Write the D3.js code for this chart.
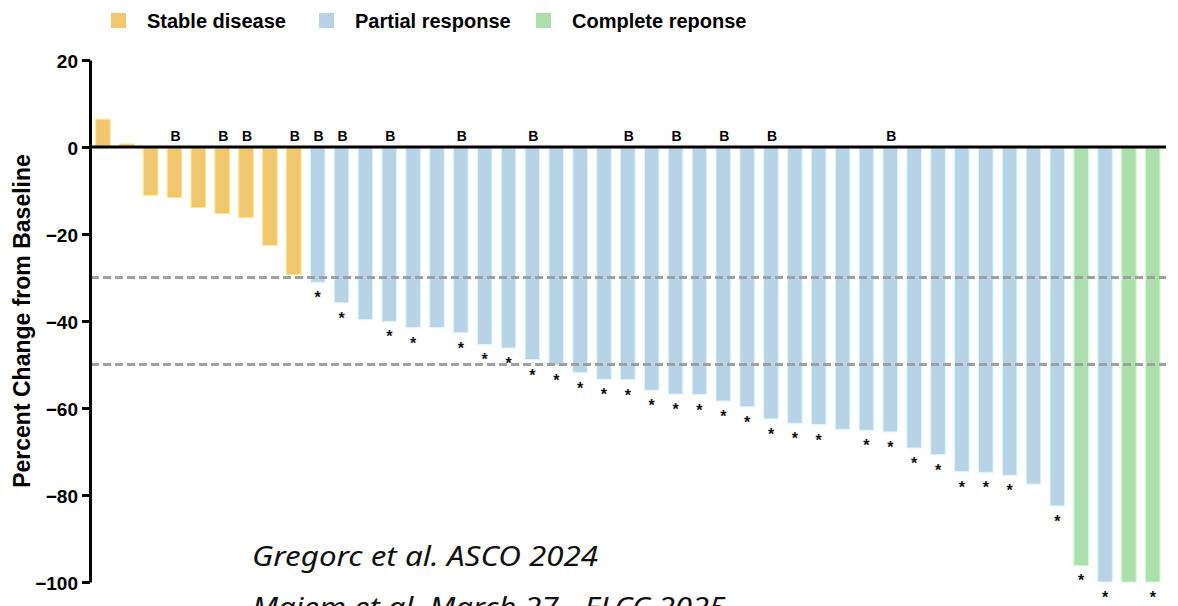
<!DOCTYPE html>
<html>
<head>
<meta charset="utf-8">
<script src="https://cdn.jsdelivr.net/npm/d3@7"></script>
<style>
  html, body { margin: 0; padding: 0; background: #ffffff; }
  svg { display: block; }
</style>
</head>
<body>
<svg id="chart" width="1178" height="606"></svg>
<script>
// Best percent change from baseline in target lesions, one bar per patient
const patients = d3.range(1, 46);
const percentChange = [
  6.4, 0.7, -11.1, -11.6, -13.9, -15.3, -16.2, -22.6, -29.3,
  -31.1, -35.8, -39.7, -40.1, -41.5, -41.5, -42.7, -45.4, -46.2, -48.9,
  -50.1, -51.9, -53.4, -53.5, -55.9, -56.8, -56.9, -58.4, -59.7, -62.5,
  -63.5, -63.8, -64.9, -65.1, -65.5, -69.2, -70.7, -74.6, -74.8, -75.5,
  -77.5, -82.5, -96.2, -100, -100, -100
];
const bestResponse = [
  "SD", "SD", "SD", "SD", "SD", "SD", "SD", "SD", "SD",
  "PR", "PR", "PR", "PR", "PR", "PR", "PR", "PR", "PR", "PR",
  "PR", "PR", "PR", "PR", "PR", "PR", "PR", "PR", "PR", "PR",
  "PR", "PR", "PR", "PR", "PR", "PR", "PR", "PR", "PR", "PR",
  "PR", "PR", "CR", "PR", "CR", "CR"
];
// Patients marked "B" above the zero line
const markedB = [4, 6, 7, 9, 10, 11, 13, 16, 19, 23, 25, 27, 29, 34];
// Patients marked with an asterisk under the bar
const markedStar = [10, 11, 13, 14, 16, 17, 18, 19, 20, 21, 22, 23, 24, 25, 26, 27, 28, 29,
  30, 31, 33, 34, 35, 36, 37, 38, 39, 41, 42, 43, 45];
const thresholds = [-30, -50];
const yTicks = [20, 0, -20, -40, -60, -80, -100];
const legendKeys = ["SD", "PR", "CR"];
const legendLabels = ["Stable disease", "Partial response", "Complete reponse"];
const citations = ["Gregorc et al. ASCO 2024", "Majem et al. March 27 - ELCC 2025"];

const colors = { SD: "#F0C66E", PR: "#B7D3E5", CR: "#ACDFAB" };
const boldFont = "'Liberation Sans', Arial, Helvetica, sans-serif";

const svg = d3.select("#chart");

const x = d3.scaleBand()
  .domain(patients)
  .range([91, 1164.7])
  .paddingInner(0.39)
  .paddingOuter(0.195);

const y = d3.scaleLinear()
  .domain([-100, 20])
  .range([582, 60]);

const byId = new Map(patients.map((p, i) => [p, { id: p, value: percentChange[i], resp: bestResponse[i] }]));
const rows = patients.map(p => byId.get(p));

// Bars
svg.append("g")
  .selectAll("rect")
  .data(rows)
  .join("rect")
  .attr("x", d => x(d.id))
  .attr("width", x.bandwidth())
  .attr("y", d => y(Math.max(0, d.value)))
  .attr("height", d => Math.abs(y(d.value) - y(0)))
  .attr("fill", d => colors[d.resp])
  .attr("stroke", d => d3.color(colors[d.resp]).brighter(0.45))
  .attr("stroke-width", 1);

// Response thresholds
svg.append("g")
  .selectAll("line")
  .data(thresholds)
  .join("line")
  .attr("x1", 91)
  .attr("x2", 1166)
  .attr("y1", d => y(d))
  .attr("y2", d => y(d))
  .attr("stroke", "#A0A0A2")
  .attr("stroke-width", 3.2)
  .attr("stroke-dasharray", "8 4");

// Zero line
svg.append("line")
  .attr("x1", 90)
  .attr("x2", 1166)
  .attr("y1", y(0))
  .attr("y2", y(0))
  .attr("stroke", "#000")
  .attr("stroke-width", 3);

// Y axis
const yAxis = svg.append("g")
  .attr("transform", "translate(90,0)")
  .call(d3.axisLeft(y).tickValues(yTicks).tickSize(8).tickSizeOuter(0).tickPadding(4));
yAxis.select(".domain").attr("stroke-width", 3);
yAxis.selectAll(".tick line").attr("stroke-width", 3);
yAxis.selectAll(".tick text")
  .attr("font-family", boldFont)
  .attr("font-weight", "bold")
  .attr("font-size", 19)
  .attr("dy", "0.42em")
  .attr("fill", "#000");

svg.append("text")
  .attr("transform", `translate(30,${(y(0) + y(-80)) / 2}) rotate(-90)`)
  .attr("text-anchor", "middle")
  .attr("font-family", boldFont)
  .attr("font-weight", "bold")
  .attr("font-size", 23)
  .attr("fill", "#000")
  .text("Percent Change from Baseline");

// "B" markers
svg.append("g")
  .selectAll("text")
  .data(markedB)
  .join("text")
  .attr("x", d => x(d) + x.bandwidth() / 2 + 1)
  .attr("y", y(0) - 6)
  .attr("text-anchor", "middle")
  .attr("font-family", boldFont)
  .attr("font-weight", "bold")
  .attr("font-size", 14)
  .attr("fill", "#000")
  .text("B");

// Asterisks under bars
svg.append("g")
  .selectAll("text")
  .data(markedStar)
  .join("text")
  .attr("x", d => x(d) + x.bandwidth() / 2)
  .attr("y", d => y(byId.get(d).value) + 21)
  .attr("text-anchor", "middle")
  .attr("font-family", boldFont)
  .attr("font-weight", "bold")
  .attr("font-size", 16)
  .attr("fill", "#111")
  .text("*");

// Legend
const legendX = [111, 319, 536];
const legend = svg.append("g");
legendKeys.forEach((k, i) => {
  legend.append("rect")
    .attr("x", legendX[i])
    .attr("y", 13)
    .attr("width", 15)
    .attr("height", 15)
    .attr("fill", colors[k]);
  legend.append("text")
    .attr("x", legendX[i] + 36)
    .attr("y", 28)
    .attr("font-family", boldFont)
    .attr("font-weight", "bold")
    .attr("font-size", 20)
    .attr("fill", "#000")
    .text(legendLabels[i]);
});

// Source notes (the second line runs past the bottom edge)
const citeWidths = [346, 474];
svg.append("g")
  .selectAll("text")
  .data(citations)
  .join("text")
  .attr("x", 252)
  .attr("y", (d, i) => 566 + i * 51)
  .attr("font-family", "'Noto Sans', 'Open Sans', sans-serif")
  .attr("font-style", "italic")
  .attr("font-size", 28)
  .attr("fill", "#111")
  .attr("textLength", (d, i) => citeWidths[i])
  .attr("lengthAdjust", "spacingAndGlyphs")
  .text(d => d);
</script>
</body>
</html>
